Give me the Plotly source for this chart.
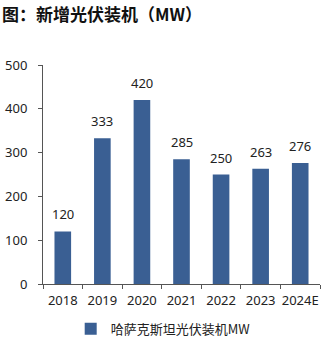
import plotly.graph_objects as go

years = ["2018", "2019", "2020", "2021", "2022", "2023", "2024E"]
values = [120, 333, 420, 285, 250, 263, 276]
series_name = "哈萨克斯坦光伏装机MW"
title = "图：新增光伏装机（MW）"

font_family = "Noto Sans, Open Sans, Noto Sans CJK SC, sans-serif"
bar_color = "#3A5F93"

fig = go.Figure()
fig.add_trace(go.Bar(
    x=years, y=values, name=series_name,
    marker=dict(color=bar_color, line=dict(width=0)),
    width=0.42,
    showlegend=True,
))

annotations = [dict(text="<b>" + title + "</b>", xref="paper", yref="paper",
                    x=-43/277, y=1 + (65-14)/219, xanchor="left", yanchor="middle",
                    showarrow=False,
                    font=dict(size=17, family="Noto Sans CJK SC, sans-serif", color="#111111"))]
for i, v in enumerate(values):
    # category axis: annotation x given as category serial number
    annotations.append(dict(x=i, y=v, xref="x", yref="y", text=str(v), showarrow=False,
                            yanchor="bottom", yshift=6,
                            font=dict(size=13, color="#222222", family=font_family)))

fig.update_layout(
    width=327, height=341,
    margin=dict(l=43, r=7, t=65, b=57, autoexpand=False),
    paper_bgcolor="white", plot_bgcolor="white",
    font=dict(family=font_family, size=13, color="#222222"),
    showlegend=True,
    legend=dict(orientation="h", x=0.1, y=-0.205, xanchor="left", yanchor="middle",
                font=dict(size=13, family="Noto Sans CJK SC, sans-serif", color="#222222"),
                itemwidth=30, bgcolor="rgba(0,0,0,0)"),
    annotations=annotations,
)
fig.update_xaxes(type="category", categoryorder="array", categoryarray=years,
                 range=[-0.5, len(years) - 0.5],
                 showline=True, linecolor="#555555", linewidth=1, ticks="outside",
                 tickson="boundaries", ticklen=4, tickcolor="#555555", showgrid=False,
                 tickangle=0, automargin=False, ticklabelstandoff=4,
                 tickfont=dict(size=13), fixedrange=True)
fig.update_yaxes(range=[0, 500], dtick=100, showline=True, linecolor="#555555", linewidth=1,
                 ticks="outside", ticklen=4, tickcolor="#555555", showgrid=False,
                 automargin=False,
                 zeroline=False, tickfont=dict(size=13), ticklabelstandoff=8)

fig.write_html("out.html")
